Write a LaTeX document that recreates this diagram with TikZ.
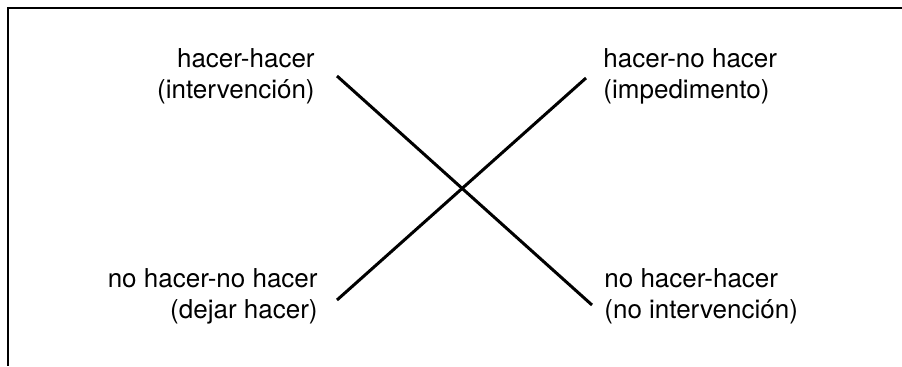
\documentclass[tikz,border=0pt]{standalone}
\usepackage{fontspec}
\setmainfont{TeX Gyre Heros}
\begin{document}
\begin{tikzpicture}[
    x=0.5pt, y=-0.5pt,
    lbl/.style={inner sep=0pt, font=\fontsize{13}{15.5}\selectfont, text=black},
    lblright/.style={lbl, align=right, anchor=base east},
    lblleft/.style={lbl, align=left, anchor=base west},
    frame/.style={line width=1pt, draw=black},
    cross/.style={line width=1.5pt, draw=black}
  ]
  \useasboundingbox (0,0) rectangle (902,366);
  % frame, only top and left edges are visible
  \draw [frame] (902,8) -- (8,8) -- (8,366);

  % anchors sit on the baseline of the second line
  \node (hh) [lblright] at (315,98) {hacer-hacer\\(intervención)};
  \node (hn) [lblleft] at (603,98) {hacer-no hacer\\(impedimento)};
  \node (nn) [lblright] at (318,318) {no hacer-no hacer\\(dejar hacer)};
  \node (nh) [lblleft] at (604,318) {no hacer-hacer\\(no intervención)};

  \coordinate (hhend) at (337,76);
  \coordinate (nhend) at (592,305);
  \coordinate (nnend) at (337,300);
  \coordinate (hnend) at (586,78);

  \draw [cross] (hhend) -- (nhend);
  \draw [cross] (nnend) -- (hnend);
\end{tikzpicture}
\end{document}
